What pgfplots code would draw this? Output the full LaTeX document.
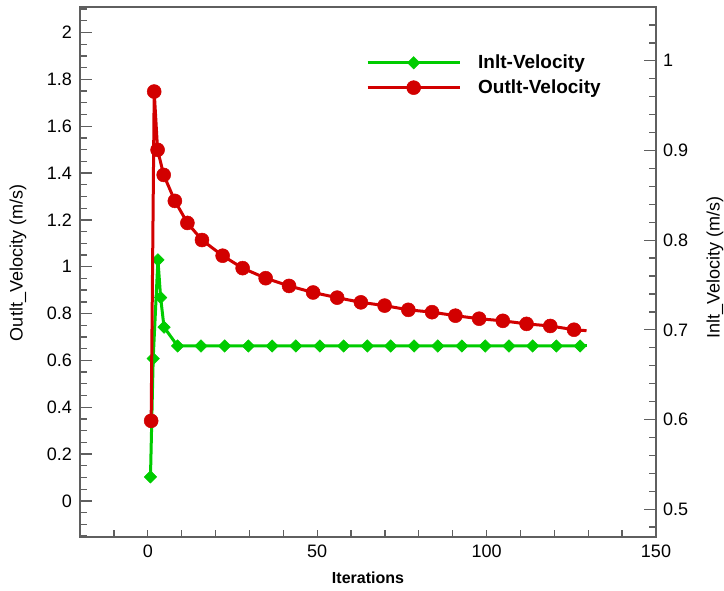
\documentclass[border=0pt]{standalone}
\usepackage{pgfplots}
\usepackage{pgfplotstable}
\pgfplotsset{compat=1.18}
\usepackage{fontspec}
\setmainfont{Liberation Sans}
\definecolor{cgreen}{RGB}{0,204,0}
\definecolor{cred}{RGB}{210,0,0}
\definecolor{cframe}{RGB}{95,95,95}

\pgfplotstableread{
x y
1.0 0.342
1.9 1.748
2.9 1.499
4.7 1.392
8.0 1.281
11.7 1.187
16.0 1.114
22.1 1.047
28.0 0.994
34.8 0.951
41.7 0.918
48.8 0.890
55.9 0.868
62.9 0.848
69.9 0.834
76.9 0.816
83.9 0.806
90.8 0.791
97.8 0.778
104.8 0.769
111.8 0.756
118.8 0.747
125.8 0.731
}\outlt

\pgfplotstableread{
x y
0.8 0.536
1.6 0.668
3.0 0.778
3.8 0.736
4.8 0.703
8.8 0.682
15.7 0.682
22.7 0.682
29.7 0.682
36.7 0.682
43.7 0.682
50.8 0.682
57.8 0.682
64.8 0.682
71.7 0.682
78.6 0.682
85.6 0.682
92.7 0.682
99.6 0.682
106.6 0.682
113.6 0.682
120.6 0.682
127.6 0.682
}\inlt

\pgfplotsset{
  base/.style={
    scale only axis, width=576pt, height=530pt,
    xmin=-20, xmax=150,
    axis line style={cframe, line width=1.3pt},
    every tick/.style={cframe, line width=1.3pt},
    tick align=inside,
    /pgf/number format/assume math mode=true,
    ticklabel style={font=\fontsize{18}{20}\selectfont},
  },
  redline/.style={color=cred, line width=3pt},
  greenline/.style={color=cgreen, line width=3pt},
  redstyle/.style={redline, mark=*, mark size=7pt, mark options={solid, fill=cred, draw=cred, line width=0.5pt}},
  greenstyle/.style={greenline, mark=square*, mark size=4.4pt, mark options={solid, rotate=45, fill=cgreen, draw=cgreen, line width=0.5pt}},
}

\begin{document}
\begin{tikzpicture}
\useasboundingbox (-80pt,-53pt) rectangle (644pt,537pt);
% right axis: Inlt velocity (green)
\begin{axis}[base,
  ymin=0.469, ymax=1.06,
  xtick=\empty,
  ytick={0.5,0.6,0.7,0.8,0.9,1},
  minor ytick={0.48,0.5,...,1.06},
  ytick pos=right, yticklabel pos=right,
  major tick length=12pt, minor tick length=7pt,
  yticklabel style={anchor=west, inner sep=0pt, xshift=7pt},
  every axis y label/.style={at={(axis description cs:1.1024,0.508)}, rotate=90, anchor=center, font=\fontsize{18}{20}\selectfont},
  ylabel={Inlt\_Velocity (m/s)},
]
\addplot[greenstyle] table {\inlt};
\addplot[greenline] coordinates {(127.6,0.682) (129.5,0.682)};
\end{axis}
% x axis
\begin{axis}[base,
  ymin=0, ymax=1, ytick=\empty,
  xtick={0,50,100,150},
  minor xtick={-10,10,20,30,40,60,70,80,90,110,120,130,140},
  xtick pos=left, xticklabel pos=left,
  major tick length=7pt, minor tick length=7pt,
  xticklabel style={anchor=north, inner sep=0pt, yshift=-8pt},
  every axis x label/.style={at={(axis description cs:0.5,0)}, anchor=base, yshift=-46pt, font=\bfseries\fontsize{16}{18}\selectfont},
  xlabel={Iterations},
]
\end{axis}
% left axis: Outlt velocity (red)
\begin{axis}[base,
  ymin=-0.154, ymax=2.109,
  xtick=\empty,
  ytick={0,0.2,0.4,0.6,0.8,1,1.2,1.4,1.6,1.8,2},
  minor ytick={-0.15,-0.1,...,2.1},
  ytick pos=left, yticklabel pos=left,
  major tick length=12pt, minor tick length=7pt,
  yticklabel style={anchor=east, inner sep=0pt, xshift=-8pt},
  every axis y label/.style={at={(axis description cs:-0.1076,0.517)}, rotate=90, anchor=center, font=\fontsize{18}{20}\selectfont},
  ylabel={Outlt\_Velocity (m/s)},
  legend image code/.code={\draw[mark repeat=2,mark phase=2,#1] plot coordinates {(0pt,0pt) (46pt,0pt) (92pt,0pt)};},
  legend cell align=left,
  legend style={draw=none, fill=none, at={(axis description cs:0.4913,0.9133)}, anchor=north west,
    font=\bfseries\fontsize{19}{22}\selectfont, nodes={inner sep=0pt}, column sep=17pt, row sep=9.6pt},
]
\addlegendimage{greenstyle}
\addplot[redstyle] table {\outlt};
\addplot[redline, forget plot] coordinates {(125.8,0.731) (129.5,0.727)};
\legend{Inlt-Velocity, Outlt-Velocity}
\end{axis}
\end{tikzpicture}
\end{document}
